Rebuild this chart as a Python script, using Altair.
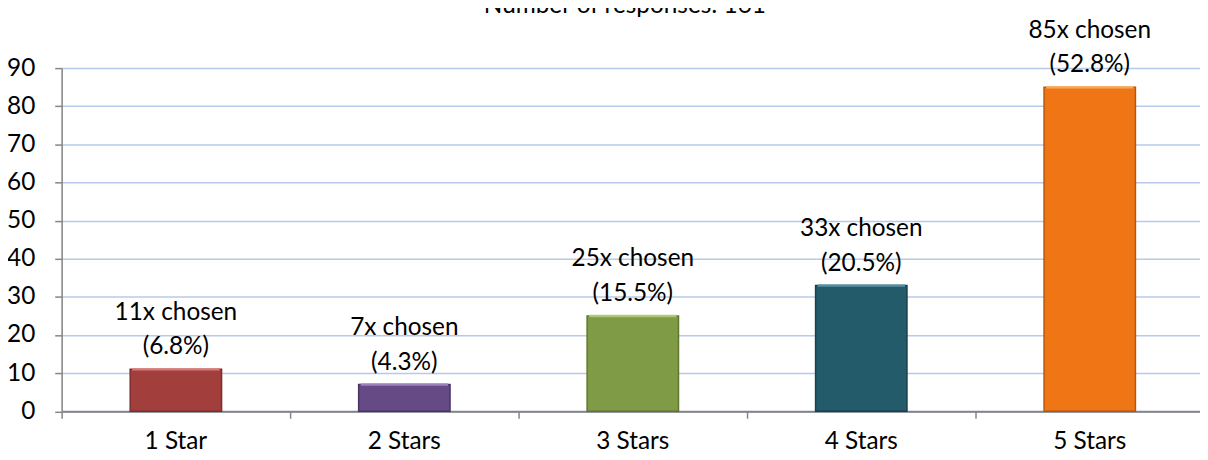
import altair as alt
import pandas as pd

categories = ["1 Star", "2 Stars", "3 Stars", "4 Stars", "5 Stars"]
counts = [11, 7, 25, 33, 85]
percents = ["6.8%", "4.3%", "15.5%", "20.5%", "52.8%"]
bar_colors = ["#A23F3D", "#654A85", "#7F9B45", "#245B6A", "#F07515"]
edge_colors = ["#7E2E2C", "#4A3566", "#5F7631", "#17414D", "#B9560C"]
highlight_colors = ["#D98682", "#A68BC6", "#B3CF7C", "#5E99A8", "#FBB168"]
y_ticks = [0, 10, 20, 30, 40, 50, 60, 70, 80, 90]
title_text = "Number of responses: 161"

FONT = "Lato"
FS = 24.5

df = pd.DataFrame({
    "cat": categories,
    "count": counts,
    "label": [f"{c}x chosen\n({p})" for c, p in zip(counts, percents)],
})

x_enc = alt.X(
    "cat:N",
    sort=categories,
    scale=alt.Scale(paddingInner=0, paddingOuter=0, range=[0, 1150]),
    axis=alt.Axis(
        title=None, labelAngle=0, bandPosition=0,
        tickSize=7, tickColor="#868686", tickWidth=1.5,
        domainColor="#868686", domainWidth=2,
        labelFont=FONT, labelFontSize=FS, labelColor="#000000",
        labelPadding=11, grid=False, labelOverlap=False,
    ),
)

y_enc = alt.Y(
    "count:Q",
    scale=alt.Scale(domain=[0, 90], nice=False, zero=True),
    axis=alt.Axis(
        title=None, values=y_ticks, tickCount=10, tickSize=7, tickColor="#868686", tickWidth=1.5,
        domainColor="#868686", domainWidth=1.5,
        labelFont=FONT, labelFontSize=FS, labelColor="#000000", labelPadding=20,
        labelOverlap=False, labelFlush=False,
        grid=True, gridColor="#B7CAEA", gridWidth=1.5,
    ),
)

base = alt.Chart(df)

bars = base.mark_bar(width=alt.RelativeBandSize(0.4), strokeWidth=1.5).encode(
    x=x_enc,
    y=y_enc,
    color=alt.Color("cat:N", scale=alt.Scale(domain=categories, range=bar_colors), legend=None),
    stroke=alt.Stroke("cat:N", scale=alt.Scale(domain=categories, range=edge_colors), legend=None),
)

highlight = base.mark_tick(thickness=2.5, size=88, opacity=0.9).encode(
    x=x_enc,
    y=y_enc,
    color=alt.Color("cat:N", scale=alt.Scale(domain=categories, range=highlight_colors), legend=None),
)

labels = base.mark_text(
    baseline="middle", dy=-57, lineBreak="\n", lineHeight=35,
    font=FONT, fontSize=FS, color="#000000",
).encode(
    x=x_enc,
    y=y_enc,
    text="label:N",
)

title = alt.Chart(pd.DataFrame({"t": [title_text]})).mark_text(
    baseline="alphabetic", align="center", font=FONT, fontSize=FS, color="#000000",
).encode(
    x=alt.value(567),
    y=alt.value(-55),
    text="t:N",
)

chart = alt.layer(bars, highlight, labels, title).resolve_scale(color="independent").properties(
    width=1146,
    height=345.5,
    autosize=alt.AutoSizeParams(type="none"),
    padding={"left": 54, "top": 59, "right": 0, "bottom": 47},
).configure_view(stroke=None).configure(background="#FFFFFF")

chart.save("out.html", embed_options={"renderer": "svg", "actions": False})
